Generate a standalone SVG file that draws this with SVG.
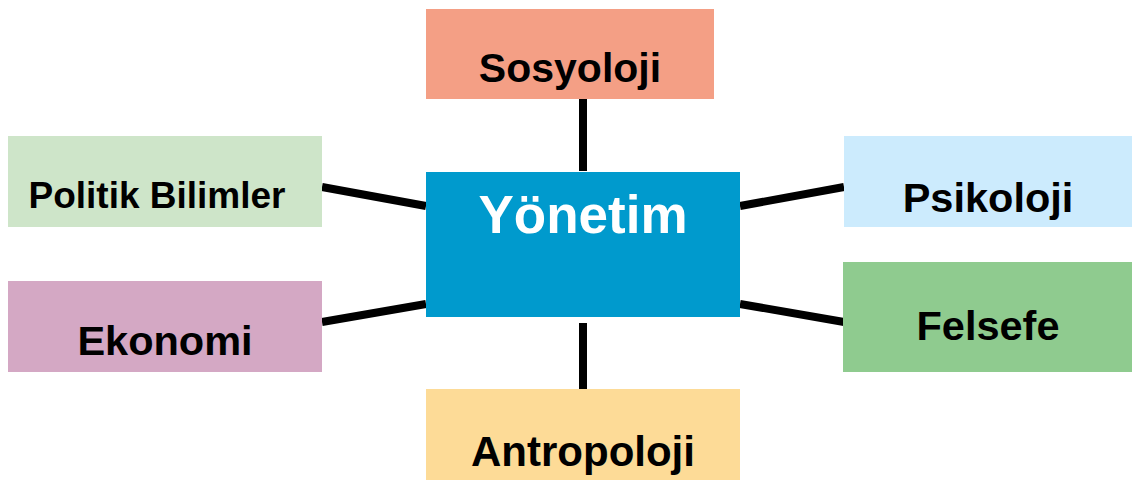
<svg xmlns="http://www.w3.org/2000/svg" width="1132" height="480" viewBox="0 0 1132 480">
<style>
  .lbl { font-family: "Liberation Sans", Arial, sans-serif; font-weight: bold; fill: #000; text-anchor: middle; }
  .conn line { stroke: #000; stroke-width: 8; stroke-linecap: butt; }
</style>
<rect width="1132" height="480" fill="#fff"/>
<g id="connectors" class="conn">
  <line x1="583" y1="99" x2="583" y2="171"/>
  <line x1="583" y1="323" x2="583" y2="389"/>
  <line x1="322" y1="187" x2="426" y2="206"/>
  <line x1="322" y1="322" x2="426" y2="304"/>
  <line x1="740" y1="206" x2="844" y2="187"/>
  <line x1="740" y1="304" x2="844" y2="322"/>
</g>
<g id="yonetim">
  <rect x="426" y="172" width="314" height="145" fill="#009ACD"/>
  <text x="583" y="233" class="lbl" style="fill:#fff" font-size="53">Yönetim</text>
</g>
<g id="sosyoloji">
  <rect x="426" y="9" width="288" height="90" fill="#F49F85"/>
  <text x="570" y="82" class="lbl" font-size="41">Sosyoloji</text>
</g>
<g id="politik">
  <rect x="8" y="136" width="314" height="91" fill="#CEE5C9"/>
  <text x="157" y="208" class="lbl" font-size="37">Politik Bilimler</text>
</g>
<g id="ekonomi">
  <rect x="8" y="281" width="314" height="91" fill="#D4A8C4"/>
  <text x="165" y="355" class="lbl" font-size="41.5">Ekonomi</text>
</g>
<g id="psikoloji">
  <rect x="844" y="136" width="288" height="91" fill="#CCEBFD"/>
  <text x="988" y="212" class="lbl" font-size="41.5">Psikoloji</text>
</g>
<g id="felsefe">
  <rect x="843" y="262" width="289" height="110" fill="#8FCB8F"/>
  <text x="988" y="340" class="lbl" font-size="41.5">Felsefe</text>
</g>
<g id="antropoloji">
  <rect x="426" y="389" width="314" height="91" fill="#FDDB97"/>
  <text x="583" y="466" class="lbl" font-size="42">Antropoloji</text>
</g>
</svg>
